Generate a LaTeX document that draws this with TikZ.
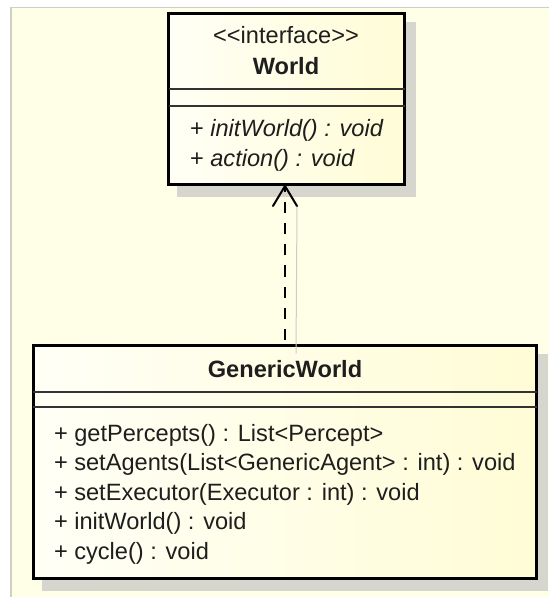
\documentclass[tikz,border=0pt]{standalone}
\usepackage{fontspec}
\setmainfont{Liberation Sans}[Ligatures=TeXOff]
\definecolor{canvas}{HTML}{FFFEE6}
\definecolor{canvasedge}{HTML}{CFCFC6}
\definecolor{boxlight}{HTML}{FFFFF6}
\definecolor{boxdark}{HTML}{FFFCD6}
\definecolor{shadowgray}{HTML}{D6D6CE}
\definecolor{ink}{HTML}{1E1E1E}
\definecolor{sepline}{HTML}{333333}
\definecolor{ghost}{HTML}{CDCDC4}

\begin{document}
\begin{tikzpicture}[x=1bp,y=-1bp,
  classbox/.style={draw=black, line width=3bp, left color=boxlight, right color=boxdark,
                   inner sep=0pt, outer sep=0pt},
  boxshadow/.style={fill=shadowgray, draw=none},
  separator/.style={draw=sepline, line width=1.5bp},
  uml/.style={font=\fontsize{23.6bp}{28bp}\selectfont, text=ink, inner sep=0pt, outer sep=0pt},
  member/.style={uml, anchor=base west},
  title/.style={uml, anchor=base},
  realize/.style={draw=black, line width=2bp, dash pattern=on 11bp off 10bp, dash phase=15bp},
  arrowarm/.style={draw=black, line width=2bp, line cap=round},
  ghostline/.style={draw=ghost, line width=1bp}
]
\useasboundingbox (0,0) rectangle (549,597);

% drawing canvas
\fill[white] (0,0) rectangle (549,597);
\fill[canvas] (10,7) rectangle (549,597);
\draw[canvasedge, line width=1.5bp] (11,597) -- (11,7.5) -- (549,7.5);

% shadows
\fill[boxshadow] (177,22) rectangle (416,197);
\fill[boxshadow] (42,354) rectangle (548,591);

% interface World
\node[classbox, minimum width=236bp, minimum height=171bp] (world) at (286.5,99) {};
\draw[separator] (world.west |- 0,89) -- (world.east |- 0,89);
\draw[separator] (world.west |- 0,106) -- (world.east |- 0,106);
\node[title] (wstereo) at (286,44) {<<interface>>};
\node[title, font=\fontsize{23.6bp}{28bp}\selectfont\bfseries] (wname) at (286,75) {World};
\node[member] (wm1) at (190,137) {+ \itshape initWorld() : void};
\node[member] (wm2) at (190,166.5) {+ \itshape action() : void};

% class GenericWorld
\node[classbox, minimum width=503bp, minimum height=233bp] (generic) at (285,462) {};
\draw[separator] (generic.west |- 0,392) -- (generic.east |- 0,392);
\draw[separator] (generic.west |- 0,407) -- (generic.east |- 0,407);
\node[title, font=\fontsize{23.6bp}{28bp}\selectfont\bfseries] (gname) at (285,377) {GenericWorld};
\node[member] (gm1) at (54,441) {+ getPercepts() : List<Percept>};
\node[member] (gm2) at (54,470.5) {+ setAgents(List<GenericAgent> : int) : void};
\node[member] (gm3) at (54,500) {+ setExecutor(Executor : int) : void};
\node[member] (gm4) at (54,529.5) {+ initWorld() : void};
\node[member] (gm5) at (54,559) {+ cycle() : void};

% realization: GenericWorld implements World
\coordinate (tip) at ([yshift=-1.5bp]world.south -| generic.north);
\coordinate (armL) at ([shift={(-12bp,-20bp)}]tip);
\coordinate (armR) at ([shift={(12bp,-20bp)}]tip);
\coordinate (ghostend) at ([shift={(11bp,-8bp)}]generic.north);
\draw[ghostline] (armR) -- (ghostend);
\draw[realize] (generic.north) -- (tip);
\draw[arrowarm] (armL) -- (tip) -- (armR);
\end{tikzpicture}
\end{document}
